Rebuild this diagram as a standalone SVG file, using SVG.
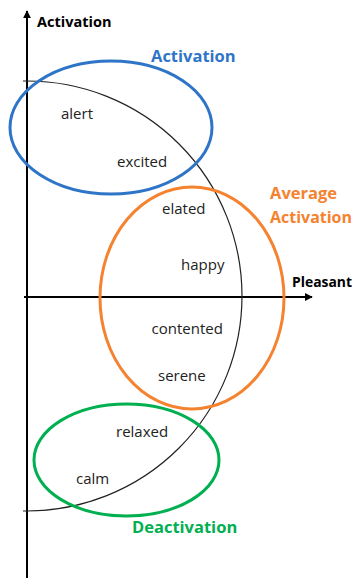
<svg xmlns="http://www.w3.org/2000/svg" width="354" height="578" viewBox="0 0 354 578">
<style>
.ax{stroke:#000;stroke-width:2;fill:none}
.cv{stroke:#222;stroke-width:1.2;fill:none}
.el{fill:none;stroke-width:3}
.w{font-family:"Open Sans",sans-serif;font-size:15px;fill:#222}
.b{font-family:"Open Sans",sans-serif;font-weight:bold}
</style>
<defs>
<marker id="ah" viewBox="0 0 10 10" refX="9" refY="5" markerWidth="4" markerHeight="4" orient="auto"><path d="M0 0 L10 5 L0 10 Z" fill="#000"/></marker>
</defs>
<rect width="354" height="578" fill="#fff"/>
<g id="connectors">
<line class="ax" x1="27" y1="578" x2="27" y2="11" marker-end="url(#ah)"/>
<line class="ax" x1="24" y1="297" x2="312" y2="297" marker-end="url(#ah)"/>
<path class="cv" d="M23 81 L27 81 A215 215 0 0 1 27 511 L23 511"/>
</g>
<g id="activation">
<ellipse class="el" cx="111" cy="127.5" rx="101" ry="66.5" stroke="#2E75C8"/>
<text class="b" x="151" y="62" font-size="16.5" fill="#2E75C8">Activation</text>
</g>
<g id="average">
<ellipse class="el" cx="192" cy="298" rx="92" ry="111" stroke="#F5822F"/>
<text class="b" x="270" y="199" font-size="16.5" fill="#F5822F">Average</text>
<text class="b" x="270" y="223" font-size="16.5" fill="#F5822F" textLength="82" lengthAdjust="spacingAndGlyphs">Activation</text>
</g>
<g id="deactivation">
<ellipse class="el" cx="126.5" cy="460" rx="92.5" ry="56" stroke="#00B050"/>
<text class="b" x="132" y="533" font-size="16.5" fill="#00B050">Deactivation</text>
</g>
<g id="axis-labels">
<text class="b" x="37" y="27" font-size="14.5" fill="#000">Activation</text>
<text class="b" x="292" y="287" font-size="14.5" fill="#000" textLength="60" lengthAdjust="spacingAndGlyphs">Pleasant</text>
</g>
<g id="words">
<text class="w" x="61" y="119">alert</text>
<text class="w" x="117" y="166.5">excited</text>
<text class="w" x="162" y="214">elated</text>
<text class="w" x="181" y="270">happy</text>
<text class="w" x="151.5" y="333.5">contented</text>
<text class="w" x="158" y="380.5">serene</text>
<text class="w" x="116" y="437">relaxed</text>
<text class="w" x="76" y="484">calm</text>
</g>
</svg>
